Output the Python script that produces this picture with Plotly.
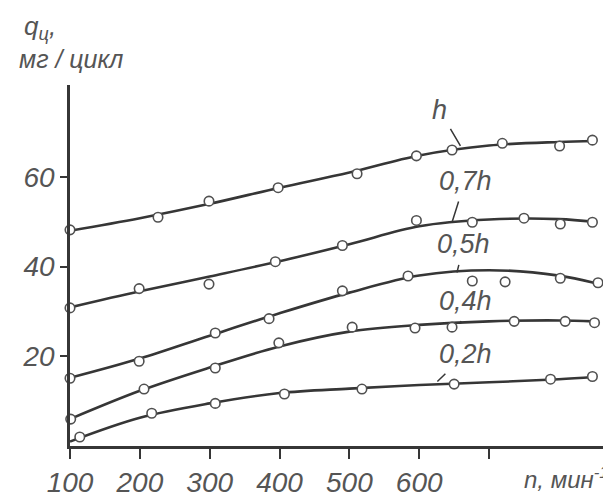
import plotly.graph_objects as go

# ---- data ----
curve_x = [100, 200, 300, 400, 500, 600, 700, 800, 850]

h_pts_x = [100, 226, 299, 398, 511, 596, 647, 719, 801, 848]
h_pts_y = [48.2, 51.0, 54.6, 57.6, 60.7, 64.7, 66.0, 67.5, 66.9, 68.2]
h_curve = [48.0, 50.8, 54.0, 57.6, 61.0, 64.8, 67.0, 67.8, 68.0]

p07_pts_x = [100, 199, 299, 394, 490, 596, 676, 750, 802, 848]
p07_pts_y = [30.8, 35.1, 36.1, 41.1, 44.7, 50.3, 49.9, 50.8, 49.5, 49.9]
p07_curve = [30.9, 34.5, 37.8, 41.2, 45.0, 49.0, 50.5, 50.6, 50.0]

p05_pts_x = [100, 199, 308, 385, 490, 584, 676, 723, 802, 856]
p05_pts_y = [15.1, 18.9, 25.2, 28.4, 34.6, 37.9, 36.8, 36.6, 37.4, 36.4]
p05_curve = [15.2, 19.5, 24.6, 29.6, 34.2, 38.0, 39.2, 38.0, 36.4]

p04_pts_x = [101, 206, 308, 399, 504, 594, 647, 736, 809, 851]
p04_pts_y = [6.0, 12.7, 17.4, 23.0, 26.5, 26.3, 26.5, 27.8, 27.8, 27.5]
p04_curve = [6.0, 12.3, 17.5, 22.2, 25.5, 27.0, 27.8, 28.0, 27.8]

p02_pts_x = [114, 217, 308, 407, 518, 650, 788, 848]
p02_pts_y = [2.0, 7.3, 9.5, 11.6, 12.7, 13.8, 14.9, 15.5]
p02_curve = [1.0, 6.3, 9.5, 11.8, 12.8, 13.6, 14.2, 14.9, 15.4]

series_labels = ["h", "0,7h", "0,5h", "0,4h", "0,2h"]
# leader-line target points on each curve
label_target_x = [659, 647, 654, 659, 626]
label_target_y = [66.9, 49.9, 38.7, 27.3, 14.4]

x_tickvals = [100, 200, 300, 400, 500, 600, 700]
x_ticktext = ["100", "200", "300", "400", "500", "600", " "]
y_tickvals = [20, 40, 60]

LINE = "#363636"
TEXT = "#555555"
FONT = "Liberation Sans Narrow, Liberation Sans, Arial, sans-serif"

series = [
    (h_pts_x, h_pts_y, h_curve),
    (p07_pts_x, p07_pts_y, p07_curve),
    (p05_pts_x, p05_pts_y, p05_curve),
    (p04_pts_x, p04_pts_y, p04_curve),
    (p02_pts_x, p02_pts_y, p02_curve),
]

fig = go.Figure()
for (px, py, cy), name in zip(series, series_labels):
    fig.add_trace(go.Scatter(
        x=curve_x, y=cy, mode="lines", name=name,
        line=dict(color=LINE, width=2.6, shape="spline", smoothing=1.0),
        showlegend=False, hoverinfo="skip"))
for (px, py, cy), name in zip(series, series_labels):
    fig.add_trace(go.Scatter(
        x=px, y=py, mode="markers", name=name,
        marker=dict(symbol="circle", size=9.5, color="white",
                    line=dict(color="#505050", width=1.6)),
        showlegend=False, cliponaxis=False))

# label offsets (pixels) from target point to text
label_ax = [-21, 13, 7, 5, 28]
label_ay = [-36, -41, -28, -23, -27]
for name, tx, ty, ax, ay in zip(series_labels, label_target_x, label_target_y, label_ax, label_ay):
    fig.add_annotation(
        x=tx, y=ty, xref="x", yref="y", text=name,
        ax=ax, ay=ay, showarrow=True, arrowhead=0, arrowwidth=1.5,
        arrowcolor=LINE, startstandoff=4,
        font=dict(family=FONT, size=27, color=TEXT, style="italic"))

# axis titles
fig.add_annotation(
    xref="paper", yref="paper", x=-0.09, y=1.16, xanchor="left", yanchor="middle",
    text="q<sub>ц</sub>,", showarrow=False,
    font=dict(family=FONT, size=26, color=TEXT, style="italic"))
fig.add_annotation(
    xref="paper", yref="paper", x=-0.1, y=1.072, xanchor="left", yanchor="middle",
    text="мг / цикл", showarrow=False,
    font=dict(family=FONT, size=25, color=TEXT, style="italic"))
fig.add_annotation(
    xref="paper", yref="paper", x=1.012, y=-0.09, xanchor="right", yanchor="middle",
    text="n, мин<sup>-1</sup>", showarrow=False,
    font=dict(family=FONT, size=24, color=TEXT, style="italic"))

fig.update_layout(
    width=611, height=502,
    margin=dict(l=62, r=14, t=77, b=51),
    paper_bgcolor="white", plot_bgcolor="white",
    xaxis=dict(range=[100, 866], tickvals=x_tickvals, ticktext=x_ticktext,
               showline=True, linecolor=LINE, linewidth=2.5,
               ticks="outside", ticklen=10, tickwidth=1.5, tickcolor=LINE,
               showgrid=False, zeroline=False,
               tickfont=dict(family=FONT, size=28, color=TEXT, style="italic")),
    yaxis=dict(range=[0, 80.5], tickvals=y_tickvals,
               showline=True, linecolor=LINE, linewidth=2.5,
               ticks="outside", ticklen=7, tickwidth=1.5, tickcolor=LINE,
               showgrid=False, zeroline=False,
               tickfont=dict(family=FONT, size=28, color=TEXT, style="italic")),
)

fig.write_html("out.html")
